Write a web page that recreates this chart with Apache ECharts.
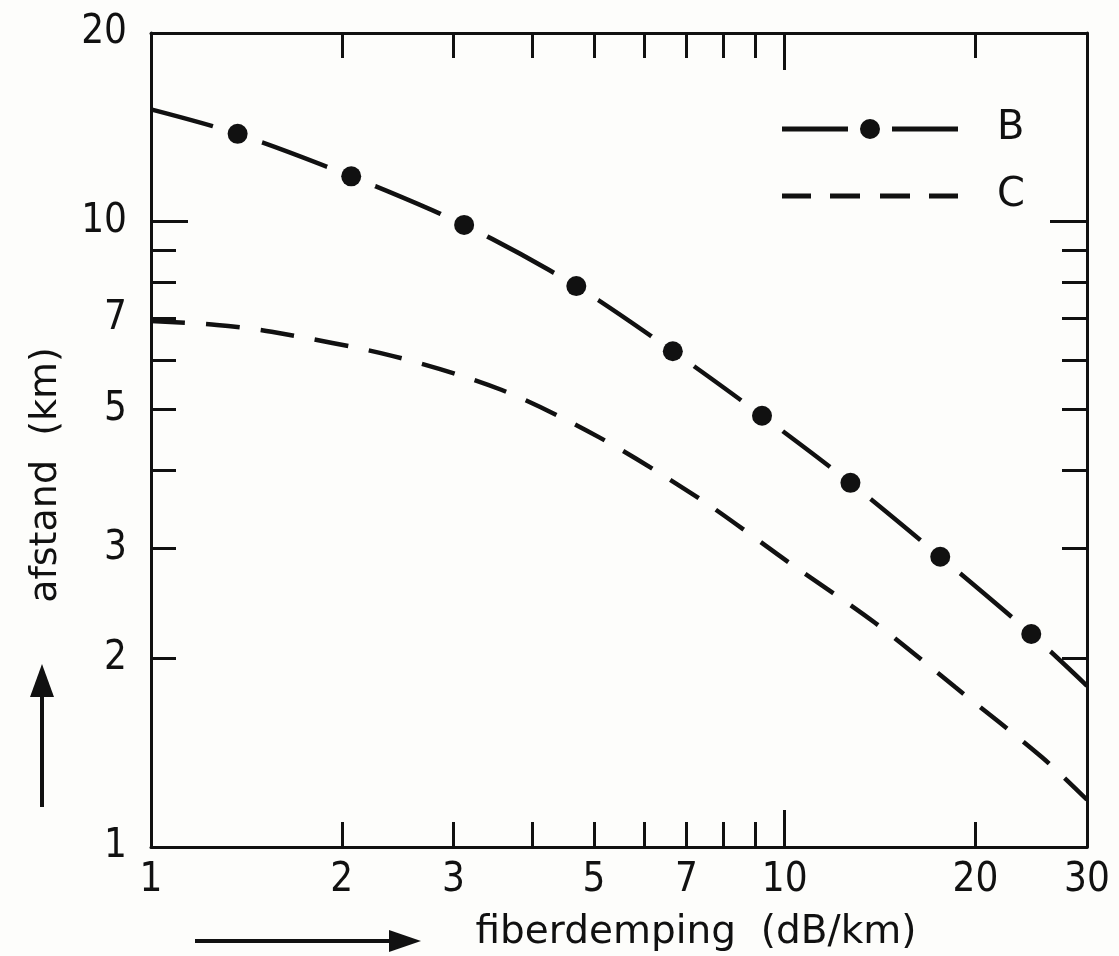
<!DOCTYPE html>
<html>
<head>
<meta charset="utf-8">
<title>afstand tegen fiberdemping</title>
<script src="https://cdn.jsdelivr.net/npm/echarts@6/dist/echarts.min.js"></script>
<style>
html, body { margin: 0; padding: 0; background: #fdfdfb; }
#main { width: 1119px; height: 956px; }
</style>
</head>
<body>
<div id="main"></div>
<script>
// ticks / labels on the log axes
var xTickValues = [2, 3, 4, 5, 6, 7, 8, 9, 20];
var xMajorTicks = [10];
var xLabelValues = [1, 2, 3, 5, 7, 10, 20, 30];
var yTickValues = [2, 3, 4, 5, 6, 7, 8, 9];
var yMajorTicks = [10];
var yLabelValues = [1, 2, 3, 5, 7, 10, 20];

// curve B (dash-dot); first and last point lie on the frame, the rest are the dots
var bDemping = [1, 1.37, 2.07, 3.12, 4.69, 6.66, 9.21, 12.7, 17.6, 24.5, 30];
var bAfstand = [15.1, 13.8, 11.8, 9.87, 7.88, 6.20, 4.89, 3.82, 2.91, 2.19, 1.81];
// curve C (dashed)
var cDemping = [1, 1.27, 1.55, 2.41, 3.57, 5.09, 7.38, 10.2, 13.9, 18.6, 25.5, 30];
var cAfstand = [6.93, 6.83, 6.66, 6.09, 5.38, 4.52, 3.59, 2.84, 2.28, 1.80, 1.39, 1.19];

function pairs(xs, ys) {
	return xs.map(function (x, i) { return [x, ys[i]]; });
}
var bLine = pairs(bDemping, bAfstand);
var bDots = bLine.slice(1, -1);
var cLine = pairs(cDemping, cAfstand);

var ink = '#111';
var bg = '#fdfdfb';
var numFont = 'DejaVu Sans Condensed';
var textFont = 'DejaVu Sans';

// one log axis; several are stacked per side to get short and long ticks
function logAxis(dim, pos, ticks, tickLen, withLine, extra) {
	var ax = {
		type: 'log',
		logBase: 10,
		min: 1,
		max: dim === 'x' ? 30 : 20,
		position: pos,
		axisLine: { show: withLine, onZero: false, lineStyle: { color: ink, width: 3 } },
		axisTick: { show: true, inside: true, length: tickLen, customValues: ticks,
			lineStyle: { color: ink, width: 3 } },
		axisLabel: { show: false },
		splitLine: { show: false },
		minorTick: { show: false }
	};
	for (var k in extra) ax[k] = extra[k];
	return ax;
}

var chart = echarts.init(document.getElementById('main'));
var option = {
	backgroundColor: bg,
	animation: false,
	color: [ink, ink],
	grid: { left: 151, right: 32, top: 33, bottom: 109, outerBoundsMode: 'none' },
	legend: {
		orient: 'vertical',
		left: 782,
		top: 109,
		padding: 0,
		itemGap: 27,
		itemWidth: 176,
		itemHeight: 20,
		selectedMode: false,
		itemStyle: { borderWidth: 0 },
		textStyle: { fontFamily: textFont, fontSize: 40, color: ink, padding: [0, 0, 0, 34] },
		data: [
			{ name: 'B', icon: 'path://M0,7.5h66v5h-66z M78,10a10,10 0 1,0 20,0a10,10 0 1,0 -20,0z M110,7.5h66v5h-66z' },
			{ name: 'C', icon: 'path://M0,7.5h29v5h-29z M48,7.5h30v5h-30z M98,7.5h30v5h-30z M147,7.5h29v5h-29z' }
		]
	},
	xAxis: [
		logAxis('x', 'bottom', xTickValues, 25, true, {
			name: 'fiberdemping  (dB/km)',
			nameLocation: 'middle',
			nameGap: 66,
			nameTextStyle: { fontFamily: textFont, fontSize: 39, color: ink, padding: [0, 0, 0, 154] },
			axisLabel: { show: true, customValues: xLabelValues, margin: 14,
				fontFamily: numFont, fontSize: 40, color: ink }
		}),
		logAxis('x', 'bottom', xMajorTicks, 37, false),
		logAxis('x', 'top', xTickValues, 25, true),
		logAxis('x', 'top', xMajorTicks, 37, false)
	],
	yAxis: [
		logAxis('y', 'left', yTickValues, 25, true, {
			name: 'afstand  (km)',
			nameLocation: 'middle',
			nameGap: 86,
			nameTextStyle: { fontFamily: textFont, fontSize: 38, color: ink, padding: [0, 70, 0, 0] },
			axisLabel: { show: true, customValues: yLabelValues, margin: 24,
				fontFamily: numFont, fontSize: 40, color: ink }
		}),
		logAxis('y', 'left', yMajorTicks, 37, false),
		logAxis('y', 'right', yTickValues, 25, true),
		logAxis('y', 'right', yMajorTicks, 37, false)
	],
	graphic: [
		// arrow along the y title
		{ type: 'line', shape: { x1: 42, y1: 807, x2: 42, y2: 692 }, style: { stroke: ink, lineWidth: 4 } },
		{ type: 'polygon', shape: { points: [[42, 664], [30, 697], [54, 697]] }, style: { fill: ink } },
		// arrow before the x title
		{ type: 'line', shape: { x1: 195, y1: 941, x2: 392, y2: 941 }, style: { stroke: ink, lineWidth: 4 } },
		{ type: 'polygon', shape: { points: [[421, 941], [389, 930], [389, 952]] }, style: { fill: ink } }
	],
	series: [
		{
			name: 'C',
			type: 'line',
			data: cLine,
			smooth: 0.3,
			symbol: 'none',
			lineStyle: { color: ink, width: 4.5, type: [34, 21] },
			z: 2
		},
		{
			name: 'B',
			type: 'line',
			data: bLine,
			smooth: 0.3,
			symbol: 'none',
			lineStyle: { color: ink, width: 4.5 },
			z: 2
		},
		{
			// clears the line around each dot
			name: 'B-rand',
			type: 'scatter',
			data: bDots,
			symbolSize: 52,
			itemStyle: { color: bg, opacity: 1 },
			silent: true,
			z: 3
		},
		{
			name: 'B-punten',
			type: 'scatter',
			data: bDots,
			symbolSize: 20,
			itemStyle: { color: ink, opacity: 1 },
			z: 4
		}
	]
};
chart.setOption(option);
</script>
</body>
</html>
